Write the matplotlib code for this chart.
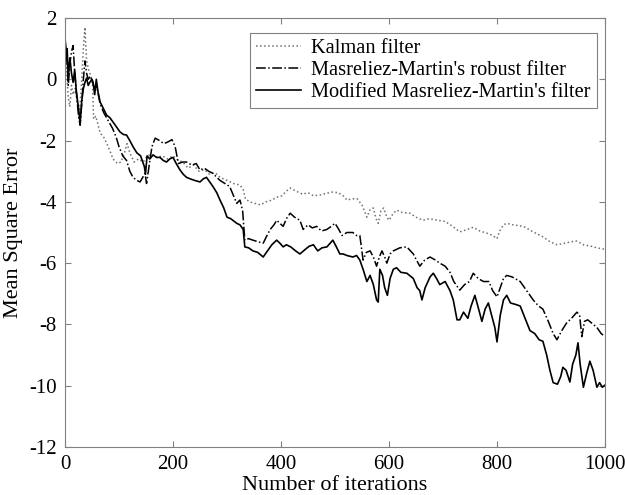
import numpy as np
import matplotlib
matplotlib.use('Agg')
import matplotlib.pyplot as plt

plt.rcParams['font.family'] = ['Liberation Serif', 'DejaVu Serif']
plt.rcParams['axes.unicode_minus'] = False

# Valores (iteración, error)
k_it = [0, 3, 6, 9, 12, 15, 19, 23, 27, 31, 34, 37, 40, 44, 48, 51, 53, 57, 65, 72,
        80, 89, 97, 104, 110, 115, 120, 128, 136, 145, 152, 160, 170, 180, 190, 200, 210, 218, 228, 238,
        248, 258, 268, 278, 287, 300, 312, 324, 330, 334, 342, 352, 362, 372, 382, 392, 402, 410, 417, 428,
        440, 450, 460, 472, 484, 496, 506, 515, 522, 532, 541, 550, 559, 565, 571, 576, 580, 585, 590, 596,
        600, 607, 614, 625, 639, 650, 663, 675, 690, 704, 718, 731, 745, 756, 768, 781, 792, 800, 805, 812,
        818, 830, 849, 867, 885, 898, 911, 925, 938, 948, 960, 975, 985, 1000]
k_val = [1.2, 0.3, -0.6, -0.9, -0.2, -0.5, -0.3, -0.8, -1.1, 0.0, 1.0, 1.7, 0.6, 0.3, 0.1, -0.2, -1.3, -1.2, -1.75, -1.9,
         -2.2, -2.6, -2.75, -2.7, -2.4, -2.1, -2.4, -2.7, -2.6, -2.7, -2.5, -2.45, -2.55, -2.5, -2.6, -2.5, -2.65, -2.7, -2.9, -2.8,
         -3.0, -2.95, -3.1, -3.05, -3.2, -3.3, -3.4, -3.45, -3.6, -3.9, -4.0, -4.05, -4.1, -4.0, -3.95, -3.85, -3.8, -3.65, -3.55, -3.65,
         -3.75, -3.7, -3.8, -3.78, -3.72, -3.68, -3.7, -3.8, -3.94, -3.9, -3.9, -4.1, -4.5, -4.25, -4.2, -4.55, -4.7, -4.3, -4.2, -4.5,
         -4.6, -4.4, -4.27, -4.35, -4.37, -4.5, -4.6, -4.55, -4.6, -4.64, -4.8, -4.98, -4.9, -4.83, -4.95, -5.02, -5.1, -5.2, -4.95, -4.75,
         -4.7, -4.75, -4.8, -4.98, -5.14, -5.3, -5.4, -5.35, -5.3, -5.28, -5.4, -5.45, -5.5, -5.55]

r_it = [0, 3, 6, 9, 12, 15, 18, 22, 25, 28, 31, 34, 37, 40, 43, 47, 51, 55, 59, 65,
        72, 80, 88, 95, 100, 107, 114, 120, 126, 133, 139, 144, 148, 151, 156, 161, 167, 175, 183, 190,
        198, 204, 210, 218, 225, 235, 243, 250, 258, 266, 274, 281, 287, 296, 305, 312, 318, 324, 329, 333,
        340, 348, 357, 367, 374, 380, 387, 392, 398, 404, 410, 417, 425, 435, 441, 450, 458, 466, 475, 485,
        493, 500, 507, 513, 522, 533, 540, 546, 552, 558, 565, 571, 577, 582, 587, 592, 596, 602, 608, 620,
        633, 645, 657, 666, 676, 686, 694, 704, 713, 720, 731, 740, 749, 756, 765, 775, 785, 792, 800, 806,
        812, 818, 828, 843, 855, 867, 877, 885, 895, 904, 911, 920, 929, 938, 948, 953, 957, 962, 968, 975,
        985, 993, 1000]
r_val = [1.3, 0.8, -0.2, 0.5, 0.9, 1.1, 0.2, -0.6, -1.2, -1.5, -0.8, 0.0, 0.6, 0.2, 0.0, 0.1, -0.1, -0.3, -0.25, -0.8,
         -1.1, -1.35, -1.6, -1.9, -2.2, -2.5, -2.65, -3.0, -3.2, -3.3, -3.35, -3.2, -3.07, -3.4, -2.8, -2.2, -1.92, -2.0, -2.1, -2.05,
         -1.97, -2.2, -2.75, -2.7, -2.7, -2.8, -2.75, -2.96, -2.9, -3.0, -3.07, -3.2, -3.3, -3.4, -3.5, -3.8, -4.05, -3.94, -4.3, -5.25,
         -5.2, -5.25, -5.3, -5.35, -5.1, -4.9, -4.75, -4.6, -4.7, -4.8, -4.55, -4.37, -4.5, -4.6, -4.9, -4.75, -4.85, -4.8, -4.95, -4.9,
         -4.8, -4.7, -4.9, -5.1, -5.0, -5.0, -5.1, -5.1, -5.9, -5.65, -5.6, -5.8, -6.1, -5.8, -5.6, -5.8, -6.0, -5.7, -5.6, -5.5,
         -5.47, -5.7, -6.1, -5.9, -5.8, -5.9, -6.0, -6.1, -6.3, -6.6, -6.88, -6.7, -6.6, -6.33, -6.5, -6.6, -6.6, -6.9, -7.1, -6.8,
         -6.5, -6.4, -6.45, -6.6, -6.9, -7.2, -7.4, -7.5, -7.9, -8.3, -8.5, -8.2, -7.95, -7.8, -7.6, -7.7, -8.4, -7.9, -7.85, -7.95,
         -8.1, -8.3, -8.4]

m_it = [0, 2, 4, 6, 9, 12, 15, 18, 21, 25, 28, 31, 34, 37, 40, 43, 46, 50, 52, 55,
        58, 61, 65, 71, 77, 83, 89, 95, 102, 108, 114, 120, 126, 133, 140, 147, 149, 152, 157, 163,
        170, 176, 182, 188, 194, 200, 206, 213, 219, 225, 232, 240, 250, 256, 262, 268, 274, 281, 287, 294,
        300, 307, 318, 324, 330, 333, 340, 348, 357, 367, 375, 383, 392, 398, 404, 410, 418, 427, 435, 445,
        452, 460, 468, 476, 485, 491, 496, 502, 509, 515, 522, 533, 540, 546, 552, 559, 565, 571, 577, 580,
        583, 588, 592, 597, 602, 608, 614, 622, 633, 645, 652, 657, 661, 667, 676, 682, 688, 694, 704, 713,
        719, 726, 731, 738, 746, 752, 759, 766, 772, 778, 784, 790, 796, 800, 806, 812, 818, 825, 835, 843,
        852, 861, 870, 878, 885, 892, 898, 904, 912, 918, 922, 928, 935, 940, 946, 950, 954, 960, 966, 972,
        978, 985, 990, 995, 1000]
m_val = [1.45, 0.6, 1.0, 0.04, 0.7, 0.2, -0.1, 0.3, -0.4, -0.94, -1.45, -0.7, -0.3, -0.1, 0.04, -0.2, -0.1, 0.0, -0.1, -0.5,
         0.0, -0.4, -0.74, -0.95, -1.17, -1.25, -1.4, -1.55, -1.72, -1.8, -1.82, -2.0, -2.2, -2.4, -2.5, -2.85, -3.1, -2.5, -2.6, -2.47,
         -2.55, -2.55, -2.65, -2.7, -2.6, -2.55, -2.75, -2.96, -3.1, -3.2, -3.25, -3.3, -3.35, -3.25, -3.2, -3.35, -3.5, -3.7, -3.94, -4.2,
         -4.5, -4.55, -4.7, -4.75, -4.9, -5.47, -5.5, -5.6, -5.65, -5.8, -5.6, -5.4, -5.25, -5.35, -5.47, -5.4, -5.47, -5.6, -5.7, -5.55,
         -5.45, -5.4, -5.6, -5.5, -5.47, -5.35, -5.25, -5.45, -5.7, -5.7, -5.75, -5.8, -5.75, -5.9, -6.2, -6.6, -6.4, -6.7, -7.2, -7.27,
         -6.2, -6.4, -6.8, -7.05, -6.5, -6.2, -6.15, -6.3, -6.33, -6.5, -6.8, -6.9, -7.2, -6.8, -6.45, -6.33, -6.5, -6.7, -6.6, -6.9,
         -7.2, -7.85, -7.85, -7.6, -7.8, -7.4, -7.05, -7.5, -7.9, -7.5, -7.3, -7.7, -8.1, -8.57, -7.7, -7.2, -7.05, -7.3, -7.35, -7.4,
         -7.8, -8.2, -8.3, -8.5, -8.55, -9.0, -9.5, -9.9, -9.95, -9.7, -9.4, -9.5, -9.88, -9.3, -9.0, -8.6, -9.3, -10.05, -9.6, -9.2,
         -9.5, -10.05, -9.9, -10.05, -9.98]

x_ticks = [0, 200, 400, 600, 800, 1000]
y_ticks = [2, 0, -2, -4, -6, -8, -10, -12]

fig = plt.figure(figsize=(6.25, 4.95), dpi=100)
ax = fig.add_axes([65 / 625, 1 - 447 / 495, 540 / 625, 429 / 495])

ax.plot(k_it, k_val, color='#707070', linestyle=':', linewidth=1.1, label='Kalman filter')
ax.plot(r_it, r_val, color='black', linestyle='-.', linewidth=1.1, label="Masreliez-Martin's robust filter")
ax.plot(m_it, m_val, color='black', linestyle='-', linewidth=1.2, label="Modified Masreliez-Martin's filter")

ax.set_xlim(0, 1000)
ax.set_ylim(-12, 2)
ax.set_xticks(x_ticks)
ax.set_yticks(y_ticks)
ax.tick_params(direction='in', top=True, right=True, labelsize=15, length=4, color='#808080', pad=6)
for s in ax.spines.values():
    s.set_color('#808080')

ax.set_xlabel('Number of iterations', fontsize=16, labelpad=1)
ax.set_ylabel('Mean Square Error', fontsize=16, labelpad=4)

leg = ax.legend(loc='upper right', bbox_to_anchor=(597 / 625, 1 - 33 / 495), bbox_transform=fig.transFigure,
                borderaxespad=0, fancybox=False, fontsize=14.7, handlelength=2.2, handletextpad=0.5,
                labelspacing=0.12, borderpad=0.3)
leg.get_frame().set_edgecolor('#606060')
leg.get_frame().set_linewidth(0.8)

plt.savefig('out.png', dpi=100)
